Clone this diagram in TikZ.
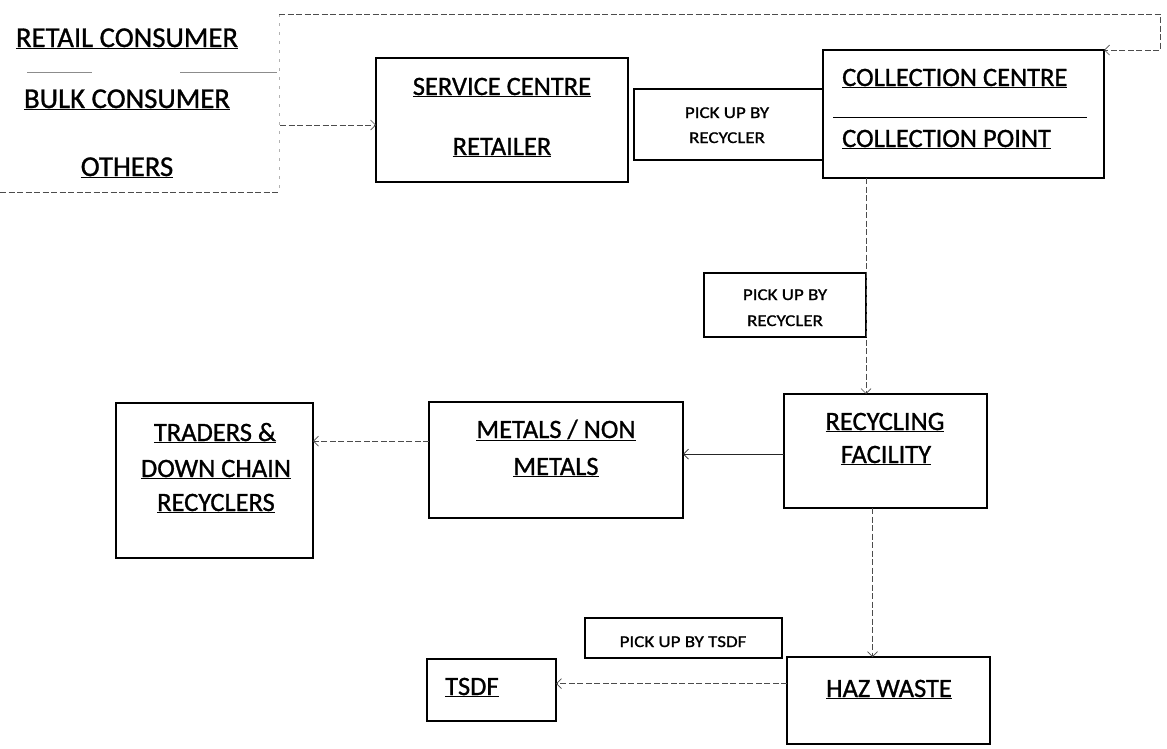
\documentclass[tikz,border=0pt]{standalone}
\usepackage{fontspec}
\usepackage{graphicx}
\setmainfont{Carlito}
\newfontfamily\heavy{Carlito}[FakeBold=1.0]
\usetikzlibrary{arrows.meta}
\newcommand{\widetxt}[1]{\scalebox{1.15}[1]{#1}}
\begin{document}
\begin{tikzpicture}[x=1pt,y=-1pt,
  box/.style={draw=black,line width=1.5pt,rectangle,inner sep=0pt,outer sep=0pt,anchor=north west},
  big/.style={font=\heavy\fontsize{26.5}{30}\selectfont,inner sep=0pt,anchor=base},
  bigw/.style={font=\heavy\fontsize{26.5}{30}\selectfont,inner sep=0pt,anchor=base west},
  huge/.style={font=\heavy\fontsize{28.7}{32}\selectfont,inner sep=0pt,anchor=base},
  small/.style={font=\heavy\fontsize{16.5}{19}\selectfont,inner sep=0pt,anchor=base},
  dline/.style={draw=black!70,line width=0.7pt,dash pattern=on 6pt off 2.5pt},
  faint/.style={draw=black!30,line width=0.5pt,dash pattern=on 3pt off 6pt},
  sline/.style={draw=black!85,line width=0.9pt},
  ar/.style={-{Straight Barb[length=5pt,width=10pt,line width=0.7pt]}}
]
\useasboundingbox (0,0) rectangle (1167,748);

% ---------- boxes ----------
\node[box,minimum width=252pt,minimum height=124pt] (svc)   at (376,58)  {};
\node[box,minimum width=189pt,minimum height=71pt]  (pick1) at (634,89)  {};
\node[box,minimum width=281pt,minimum height=128pt] (coll)  at (823,50)  {};
\node[box,minimum width=162pt,minimum height=64pt]  (pick2) at (704,273) {};
\node[box,minimum width=203pt,minimum height=114pt] (recyc) at (784,394) {};
\node[box,minimum width=254pt,minimum height=116pt] (metal) at (429,402) {};
\node[box,minimum width=197pt,minimum height=155pt] (trade) at (116,403) {};
\node[box,minimum width=203pt,minimum height=87pt]  (haz)   at (787,657) {};
\node[box,minimum width=197pt,minimum height=40pt]  (pickT) at (585,618) {};
\node[box,minimum width=129pt,minimum height=62pt]  (tsdf)  at (427,659) {};

% ---------- texts ----------
\node[huge] (tRetail) at (127,47)  {\underline{RETAIL CONSUMER}};
\node[huge] (tBulk)   at (127,108) {\underline{BULK CONSUMER}};
\node[huge] (tOther)  at (127,176) {\underline{OTHERS}};

\node[big] (tSvc1) at (502,95)  {\underline{SERVICE CENTRE}};
\node[big] (tSvc2) at (502,155) {\underline{RETAILER}};

\node[small] (tP1a) at (727,118) {\widetxt{PICK UP BY}};
\node[small] (tP1b) at (727,143) {\widetxt{RECYCLER}};

\node[bigw] (tColl1) at (842,86)  {\underline{COLLECTION CENTRE}};
\node[bigw] (tColl2) at (842,147) {\underline{COLLECTION POINT}};
\coordinate (cs1) at (833,117);
\coordinate (cs2) at (1087,117);
\draw[line width=0.9pt] (cs1) -- (cs2);

\node[small] (tP2a) at (785,300) {\widetxt{PICK UP BY}};
\node[small] (tP2b) at (785,326) {\widetxt{RECYCLER}};

\node[big] (tRec1) at (885,430) {\underline{RECYCLING}};
\node[big] (tRec2) at (886,463) {\underline{FACILITY}};

\node[big] (tMet1) at (556,438) {\underline{METALS / NON}};
\node[big] (tMet2) at (556,475) {\underline{METALS}};

\node[big] (tTr1) at (215,441) {\underline{TRADERS \&}};
\node[big] (tTr2) at (216,477) {\underline{DOWN CHAIN}};
\node[big] (tTr3) at (216,511) {\underline{RECYCLERS}};

\node[small] (tPT) at (683,647) {\widetxt{PICK UP BY TSDF}};
\node[bigw] (tTsdf) at (445,695) {\underline{TSDF}};
\node[big] (tHaz) at (889,697) {\underline{HAZ WASTE}};

% ---------- consumer group lines ----------
\coordinate (lt) at (279,14);
\coordinate (rt) at (1160,14);
\coordinate (lb) at (279,192);
\coordinate (l0) at (0,192);
\coordinate (s0) at (27,72);
\coordinate (s1) at (277,72);
\coordinate (lm) at (280,125);
\draw[faint] (lt) -- (lb);
\draw[dline] (l0) -- (lb);
\draw[draw=black!45,line width=0.6pt,dash pattern=on 65pt off 88pt on 97pt off 10pt] (s0) -- (s1);

% ---------- connectors ----------
\draw[dline,ar] (lt) -- (rt) |- (coll.north east);
\draw[dline,ar] (lm) -- (svc.west |- lm);
\draw[dline,ar] (coll.south -| pick2.east) -- (recyc.north -| pick2.east);
\draw[sline,ar] ([yshift=-3pt]recyc.west) -- ([yshift=-3pt]recyc.west -| metal.east);
\draw[dline,ar] ([yshift=19pt]metal.west) -- ([yshift=19pt]metal.west -| trade.east);
\draw[dline,ar] ([xshift=-13pt]recyc.south) -- ([xshift=-13pt]recyc.south |- haz.north);
\draw[dline,ar] ([yshift=17pt]haz.west) -- ([yshift=17pt]haz.west -| tsdf.east);
\end{tikzpicture}
\end{document}
